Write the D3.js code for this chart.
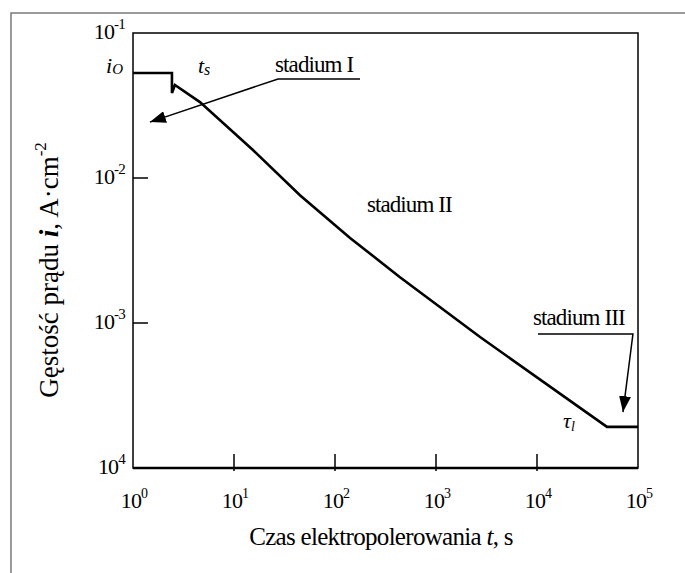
<!DOCTYPE html>
<html>
<head>
<meta charset="utf-8">
<script src="https://cdn.jsdelivr.net/npm/d3@7"></script>
<style>
  body { margin: 0; background: #fff; }
</style>
</head>
<body>
<div id="chart"></div>
<script>
// curve: time [s] vs current density [A/cm2]
var timeVals = [1, 2.43, 2.43, 2.6, 4.6, 15.4, 45, 141, 440, 2730, 26700, 49300, 100000];
var currentVals = [0.053, 0.053, 0.0385, 0.0438, 0.0334, 0.0156, 0.0076, 0.00386, 0.00207, 0.0008, 0.00026, 0.000192, 0.000192];

var xTickVals = [1, 10, 100, 1000, 10000, 100000];
var xTickExp = ["0", "1", "2", "3", "4", "5"];
var yTickVals = [0.1, 0.01, 0.001, 0.0001];
var yTickExp = ["-1", "-2", "-3", "4"];

var xTitle = "Czas elektropolerowania ";
var yTitle = "Gęstość prądu ";

var serif = "'Liberation Serif', 'Times New Roman', Times, serif";
var width = 685, height = 573;
var plot = {left: 133, top: 33, right: 638, bottom: 468};

var svg = d3.select("#chart").append("svg")
    .attr("width", width)
    .attr("height", height)
    .attr("font-family", serif);

svg.append("rect").attr("width", width).attr("height", height).attr("fill", "#fff");

// outer frame (cut by page edge)
svg.append("rect")
    .attr("x", 11).attr("y", 13)
    .attr("width", 700).attr("height", 620)
    .attr("fill", "none")
    .attr("stroke", "#7a7a7a")
    .attr("stroke-width", 1.5);

var x = d3.scaleLog().domain([1, 1e5]).range([plot.left, plot.right]);
var y = d3.scaleLog().domain([1e-4, 1e-1]).range([plot.bottom, plot.top]);

var defs = svg.append("defs");
defs.append("marker")
    .attr("id", "arr")
    .attr("viewBox", "0 0 16 12")
    .attr("refX", 16).attr("refY", 6)
    .attr("markerWidth", 16).attr("markerHeight", 12)
    .attr("markerUnits", "userSpaceOnUse")
    .attr("orient", "auto")
    .append("path")
    .attr("d", "M0,0 L16,6 L0,12 Z")
    .attr("fill", "#000");

// plot box
svg.append("rect")
    .attr("x", plot.left).attr("y", plot.top)
    .attr("width", plot.right - plot.left).attr("height", plot.bottom - plot.top)
    .attr("fill", "none").attr("stroke", "#000").attr("stroke-width", 1.5);
svg.append("line")
    .attr("x1", plot.left).attr("x2", plot.right)
    .attr("y1", plot.bottom).attr("y2", plot.bottom)
    .attr("stroke", "#000").attr("stroke-width", 2.5);

// ticks inside
xTickVals.slice(1, -1).forEach(function(t){
    svg.append("line")
        .attr("x1", x(t)).attr("x2", x(t))
        .attr("y1", plot.bottom + 3).attr("y2", plot.bottom - 14)
        .attr("stroke", "#000").attr("stroke-width", 1.5);
});
yTickVals.slice(1, -1).forEach(function(v){
    svg.append("line")
        .attr("x1", plot.left).attr("x2", plot.left + 15)
        .attr("y1", y(v)).attr("y2", y(v))
        .attr("stroke", "#000").attr("stroke-width", 1.5);
});

// tick labels
xTickVals.forEach(function(t, i){
    var txt = svg.append("text")
        .attr("font-family", serif)
        .attr("x", x(t) + 1).attr("y", plot.bottom + 40)
        .attr("text-anchor", "middle")
        .attr("font-size", 22)
        .attr("letter-spacing", -0.8);
    txt.append("tspan").text("10");
    txt.append("tspan").attr("dy", -10).attr("font-size", 14).text(xTickExp[i]);
});
yTickVals.forEach(function(v, i){
    var txt = svg.append("text")
        .attr("font-family", serif)
        .attr("x", plot.left - 8).attr("y", y(v) + 6)
        .attr("text-anchor", "end")
        .attr("font-size", 22)
        .attr("letter-spacing", -0.8);
    txt.append("tspan").text("10");
    txt.append("tspan").attr("dy", -10).attr("font-size", 15).text(yTickExp[i]);
});

// axis titles
var xt = svg.append("text")
    .attr("font-family", serif)
    .attr("x", 381).attr("y", 545)
    .attr("text-anchor", "middle")
    .attr("font-size", 25)
    .attr("letter-spacing", -0.7);
xt.append("tspan").text(xTitle);
xt.append("tspan").attr("font-style", "italic").text("t");
xt.append("tspan").text(", s");

var yt = svg.append("text")
    .attr("font-family", serif)
    .attr("transform", "translate(58,270) rotate(-90)")
    .attr("text-anchor", "middle")
    .attr("font-size", 27);
yt.append("tspan").text(yTitle);
yt.append("tspan").attr("font-style", "italic").attr("font-weight", "bold").text("i");
yt.append("tspan").text(", A·cm");
yt.append("tspan").attr("dy", -12).attr("font-size", 17).text("-2");

// the curve
var line = d3.line()
    .x(function(d){ return x(d[0]); })
    .y(function(d){ return y(d[1]); });
var pts = timeVals.map(function(t, i){ return [t, currentVals[i]]; });
svg.append("path")
    .datum(pts)
    .attr("d", line)
    .attr("fill", "none")
    .attr("stroke", "#000")
    .attr("stroke-width", 2.6)
    .attr("stroke-linejoin", "miter");

// annotations (data coordinates)
var stageLabels = [
    {text: "stadium I", t: 25.5, i: 0.0538},
    {text: "stadium II", t: 207, i: 0.00583},
    {text: "stadium III", t: 9130, i: 0.00097}
];
var leaders = [
    [[177, 0.0482], [27.3, 0.0482], [1.47, 0.0243]],
    [[10230, 0.00084], [89100, 0.00084], [71000, 0.000243]]
];

stageLabels.forEach(function(s){
    svg.append("text")
        .attr("font-family", serif)
        .attr("x", x(s.t)).attr("y", y(s.i))
        .attr("font-size", 23)
        .attr("letter-spacing", -0.9)
        .text(s.text);
});
leaders.forEach(function(l){
    svg.append("path")
        .datum(l)
        .attr("d", line)
        .attr("fill", "none")
        .attr("stroke", "#000")
        .attr("stroke-width", 1.5)
        .attr("marker-end", "url(#arr)");
});

// i_O label
var io = svg.append("text")
    .attr("font-family", serif)
    .attr("x", plot.left - 10).attr("y", y(0.053))
    .attr("text-anchor", "end")
    .attr("font-size", 22)
    .attr("font-style", "italic");
io.append("tspan").text("i");
io.append("tspan").attr("dy", 1).attr("font-size", 15).text("O");

// t_s label
var ts = svg.append("text")
    .attr("font-family", serif)
    .attr("x", x(4.4)).attr("y", y(0.053))
    .attr("font-size", 22)
    .attr("font-style", "italic");
ts.append("tspan").text("t");
ts.append("tspan").attr("dy", 2).attr("font-size", 16).text("s");

// tau_l label
var tl = svg.append("text")
    .attr("font-family", serif)
    .attr("x", x(18100)).attr("y", y(0.000189))
    .attr("font-size", 22)
    .attr("font-style", "italic");
tl.append("tspan").text("τ");
tl.append("tspan").attr("dy", 3).attr("font-size", 14).text("l");
</script>
</body>
</html>
